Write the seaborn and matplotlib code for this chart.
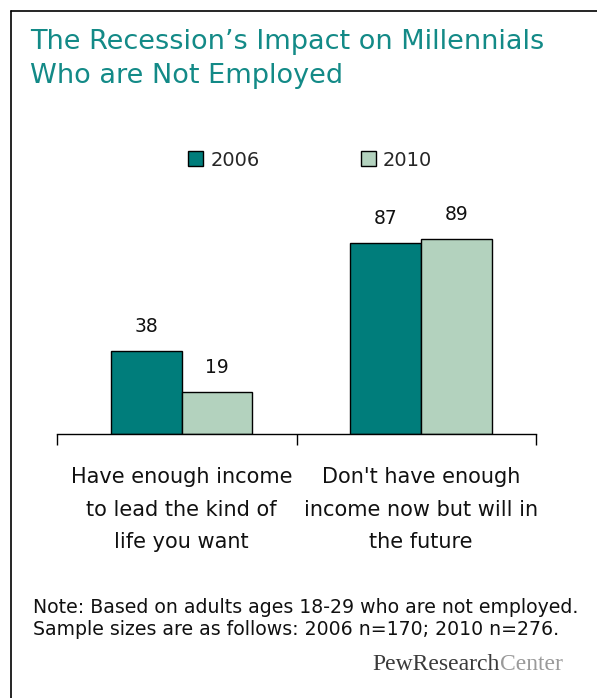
import matplotlib
matplotlib.use('Agg')
import matplotlib.pyplot as plt
from matplotlib.lines import Line2D
import seaborn as sns
import pandas as pd

# ── data ──
categories = ["Have enough income\nto lead the kind of\nlife you want",
              "Don't have enough\nincome now but will in\nthe future"]
years = ['2006', '2010']
values_2006 = [38, 87]
values_2010 = [19, 89]

df = pd.DataFrame({
    'category': categories * 2,
    'year': [years[0]] * 2 + [years[1]] * 2,
    'value': values_2006 + values_2010,
})

teal = '#007d7b'
light = '#b3d2be'
title_col = '#138a87'

sns.set_style('white')
plt.rcParams['font.family'] = ['DejaVu Sans']

fig = plt.figure(figsize=(5.97, 6.98), dpi=100)
fig.patch.set_facecolor('white')
ax = fig.add_axes([57 / 597, 1 - 434 / 698, 479 / 597, 219 / 698])

sns.barplot(data=df, x='category', y='value', hue='year',
            palette=[teal, light], saturation=1, width=0.59, gap=0,
            edgecolor='black', linewidth=1.0, ax=ax, legend=True)

for cont in ax.containers:
    ax.bar_label(cont, fmt='%d', padding=11, fontsize=13.5, color='#111111')

ax.set_ylim(0, 100)
xmin = -0.52
ax.set_xlim(xmin, xmin + 2)
ax.set_xlabel('')
ax.set_ylabel('')
ax.set_yticks([])
ax.set_xticks([0, 1])
ax.set_xticklabels(categories, fontsize=15, color='#111111', linespacing=1.78)
ax.set_xticks([xmin, xmin + 1, xmin + 2], minor=True)
ax.tick_params(axis='x', which='major', length=0, pad=24)
ax.tick_params(axis='x', which='minor', length=8, width=1, color='black',
               direction='out', bottom=True)
for s in ['left', 'right', 'top']:
    ax.spines[s].set_visible(False)
ax.spines['bottom'].set_color('black')
ax.spines['bottom'].set_linewidth(1)
ax.patch.set_alpha(0)

# legend
handles, labels = ax.get_legend_handles_labels()
ax.legend(handles, labels, loc='center', ncol=2,
          bbox_to_anchor=(310 / 597, 1 - 160 / 698), bbox_transform=fig.transFigure,
          frameon=False, fontsize=14, handlelength=0.8, handleheight=0.8,
          handletextpad=0.35, columnspacing=5.2, borderpad=0)

# title
fig.text(30 / 597, 1 - 29 / 698,
         "The Recession\u2019s Impact on Millennials\nWho are Not Employed",
         ha='left', va='top', fontsize=19.5, color=title_col, linespacing=1.38)

# note
fig.text(33 / 597, 1 - 598 / 698,
         "Note: Based on adults ages 18-29 who are not employed.\n"
         "Sample sizes are as follows: 2006 n=170; 2010 n=276.",
         ha='left', va='top', fontsize=13.6, color='#111111', linespacing=1.2)

# logo
renderer = fig.canvas.get_renderer()
t_center = fig.text(563 / 597, 1 - 670 / 698, 'Center', ha='right', va='baseline',
                    fontsize=17, color='#9a9a9a', family='Liberation Serif')
bb = t_center.get_window_extent(renderer=renderer)
fig.text(bb.x0 / fig.bbox.width, 1 - 670 / 698, 'PewResearch', ha='right',
         va='baseline', fontsize=17, color='#3a3a3a', family='Liberation Serif')

# frame on left and top
fig.add_artist(Line2D([11 / 597, 11 / 597], [0, 1 - 11 / 698], color='black',
                      linewidth=1.2, transform=fig.transFigure))
fig.add_artist(Line2D([11 / 597, 1], [1 - 11 / 698, 1 - 11 / 698], color='black',
                      linewidth=1.2, transform=fig.transFigure))

fig.savefig('out.png', dpi=100, facecolor='white')
plt.close(fig)
